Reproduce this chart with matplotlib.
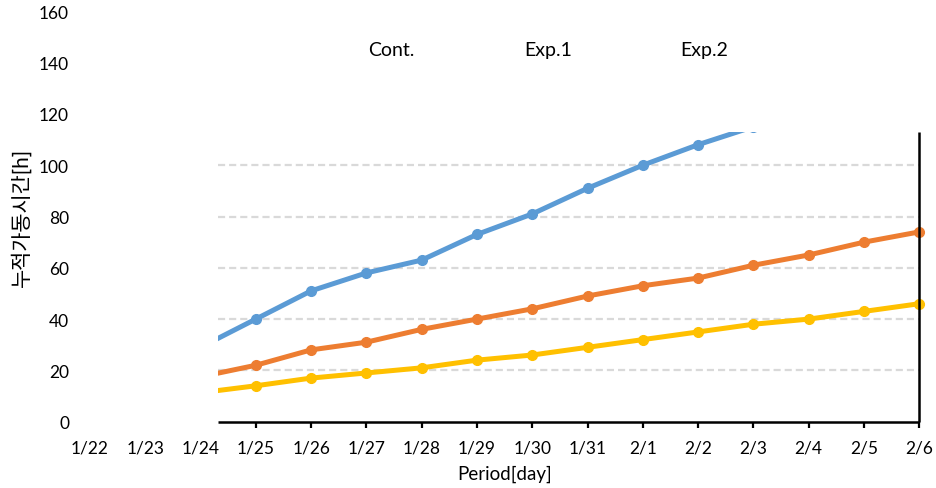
import matplotlib
matplotlib.use("Agg")
import matplotlib.pyplot as plt
from matplotlib.patches import Rectangle
import numpy as np

plt.rcParams["font.family"] = ["Lato", "Noto Sans CJK KR", "DejaVu Sans"]

# Categories and series
dates = ["1/22", "1/23", "1/24", "1/25", "1/26", "1/27", "1/28", "1/29",
         "1/30", "1/31", "2/1", "2/2", "2/3", "2/4", "2/5", "2/6"]
cont = [np.nan, np.nan, 29, 40, 51, 58, 63, 73, 81, 91, 100, 108, 115,
        np.nan, np.nan, np.nan]
exp1 = [np.nan, np.nan, 17.5, 22, 28, 31, 36, 40, 44, 49, 53, 56, 61, 65, 70, 74]
exp2 = [np.nan, np.nan, 11.3, 14, 17, 19, 21, 24, 26, 29, 32, 35, 38, 40, 43, 46]
series_names = ["Cont.", "Exp.1", "Exp.2"]
colors = ["#5B9BD5", "#ED7D31", "#FFC000"]
y_ticks = [0, 20, 40, 60, 80, 100, 120, 140, 160]

W, H = 936, 489
fig = plt.figure(figsize=(W / 100, H / 100), dpi=100)
x_left, x_right = 89.9, 919.3
y_bottom, y_top = 422.7, 12.3
ax = fig.add_axes([x_left / W, (H - y_bottom) / H,
                   (x_right - x_left) / W, (y_bottom - y_top) / H])

x = np.arange(len(dates))
ax.set_xlim(0, len(dates) - 1)
ax.set_ylim(0, 160)

# visible plot region (inner plot area)
px_per_x = (x_right - x_left) / (len(dates) - 1)
area_x0 = (218 - x_left) / px_per_x
area_y1 = (y_bottom - 133) / ((y_bottom - y_top) / 160)
area_x1 = len(dates) - 1

clip = Rectangle((area_x0, -10), area_x1 + 0.3 - area_x0, area_y1 + 10,
                 transform=ax.transData, facecolor="none", edgecolor="none")
ax.add_patch(clip)

# dashed gridlines inside the plot area
for t in y_ticks[1:]:
    if t < area_y1:
        ax.plot([area_x0, area_x1], [t, t], color="#d9d9d9", lw=1.6,
                dashes=(3.2, 1.8), zorder=1, solid_capstyle="butt")

for vals, name, c in zip([cont, exp1, exp2], series_names, colors):
    ln, = ax.plot(x, vals, color=c, lw=3.6, marker="o", markersize=7,
                  label=name, zorder=3, solid_capstyle="butt")
    ln.set_clip_path(clip)

# axis lines
ax.plot([area_x0, area_x1], [0, 0], color="black", lw=1.8, zorder=4,
        clip_on=False, solid_capstyle="butt")
ax.plot([area_x1, area_x1], [0, area_y1], color="black", lw=1.8, zorder=4,
        clip_on=False, solid_capstyle="butt")

for s in ax.spines.values():
    s.set_visible(False)

ax.set_xticks(x)
ax.set_xticklabels(dates)
ax.set_yticks(y_ticks)
ax.tick_params(axis="x", length=0, pad=12.5, labelsize=12.5)
ax.tick_params(axis="y", length=0, pad=15, labelsize=12.5)
ax.xaxis.remove_overlapping_locs = False
ax.set_xticks(x[3:], minor=True)
ax.tick_params(axis="x", which="minor", length=4.5, width=1.6,
               direction="out", color="black")

ax.set_xlabel("Period[day]", fontsize=13.5, labelpad=7)
ax.set_ylabel("누적가동시간[h]", fontsize=15, labelpad=5)

leg = ax.legend(ncol=3, loc="center", bbox_to_anchor=(548.5 / W, 1 - 51 / H),
                bbox_transform=fig.transFigure, frameon=False,
                handlelength=0, handletextpad=0, columnspacing=5.6,
                fontsize=14)
for h in leg.legend_handles:
    h.set_visible(False)

fig.savefig("out.png", dpi=100)
